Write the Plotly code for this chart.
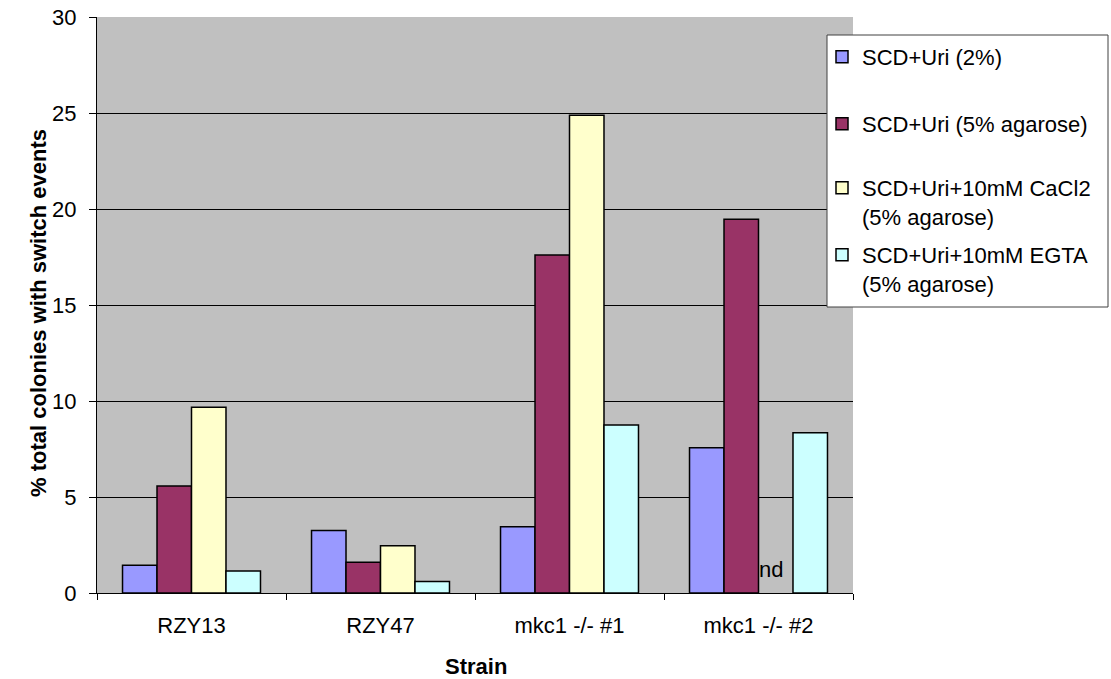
import plotly.graph_objects as go

strains = ["RZY13", "RZY47", "mkc1 -/- #1", "mkc1 -/- #2"]
series_names = ["SCD+Uri (2%)", "SCD+Uri (5% agarose)",
                "SCD+Uri+10mM CaCl2<br>(5% agarose)", "SCD+Uri+10mM EGTA<br>(5% agarose)"]
scd_2 = [1.45, 3.25, 3.45, 7.57]
scd_5 = [5.57, 1.6, 17.6, 19.46]
cacl2_5 = [9.67, 2.46, 24.88, None]
egta_5 = [1.15, 0.6, 8.75, 8.35]
y_ticks = [0, 5, 10, 15, 20, 25, 30]

colors = ["#9999ff", "#993366", "#ffffcc", "#ccffff"]
FONT = "Liberation Sans, Arial, sans-serif"
FS = 22

# plot area in pixels (for converting legend placement to paper coords)
L, R, T, B = 97, 853, 17, 593
W, H = R - L, B - T
def px(x): return (x - L) / W
def py(y): return (B - y) / H

legend_names = ["legend", "legend2", "legend3", "legend4"]
legend_text_y = [57, 124, 188, 255]

fig = go.Figure()
for i, (name, vals) in enumerate(zip(series_names, [scd_2, scd_5, cacl2_5, egta_5])):
    fig.add_trace(go.Bar(
        x=strains, y=vals, name=name,
        marker=dict(color=colors[i], line=dict(color="black", width=1.5)),
        legend=legend_names[i],
    ))

# legend frame
fig.add_shape(type="rect", xref="paper", yref="paper",
              x0=px(827), x1=px(1108), y0=py(307), y1=py(35),
              fillcolor="white", line=dict(color="#404040", width=1), layer="above")

legend_common = dict(xanchor="left", yanchor="top", bgcolor="rgba(0,0,0,0)",
                     borderwidth=0, valign="top",
                     font=dict(family=FONT, size=FS, color="black"))
layout_legends = {}
for i, ln in enumerate(legend_names):
    layout_legends[ln] = dict(x=px(822), y=py(legend_text_y[i] - 21), **legend_common)

fig.add_annotation(x=strains[3], y=1.2, xref="x", yref="y", text="nd",
                   showarrow=False, xshift=12, font=dict(family=FONT, size=FS, color="black"))

# axis titles
fig.add_annotation(x=px(38), y=py(313), xref="paper", yref="paper",
                   xanchor="center", yanchor="middle",
                   text="<b>% total colonies with switch events</b>", textangle=-90,
                   showarrow=False, font=dict(family=FONT, size=FS, color="black"))
fig.add_annotation(x=px(476), y=py(666), xref="paper", yref="paper",
                   xanchor="center", yanchor="middle",
                   text="<b>Strain</b>",
                   showarrow=False, font=dict(family=FONT, size=FS, color="black"))

fig.update_layout(
    width=1111, height=679,
    margin=dict(l=L, r=1111 - R, t=T, b=679 - B, autoexpand=False),
    paper_bgcolor="white", plot_bgcolor="#c0c0c0",
    barmode="group", bargap=0.27, bargroupgap=0,
    font=dict(family=FONT, size=FS, color="black"),
    showlegend=True,
    xaxis=dict(
        automargin=False,
        showline=True, linecolor="black", linewidth=1,
        ticks="outside", tickson="boundaries", ticklen=6, tickcolor="black",
        showgrid=False, tickfont=dict(size=FS), ticklabelstandoff=13,
    ),
    yaxis=dict(
        automargin=False,
        range=[0, 30], tickvals=y_ticks,
        showline=True, linecolor="black", linewidth=1,
        ticks="outside", ticklen=7, tickcolor="black",
        showgrid=True, gridcolor="black", gridwidth=1,
        zeroline=False, tickfont=dict(size=FS), ticklabelstandoff=8,
    ),
    **layout_legends,
)

fig.write_html("out.html", config={"displayModeBar": False},
               post_script="document.body.style.margin='0';")
